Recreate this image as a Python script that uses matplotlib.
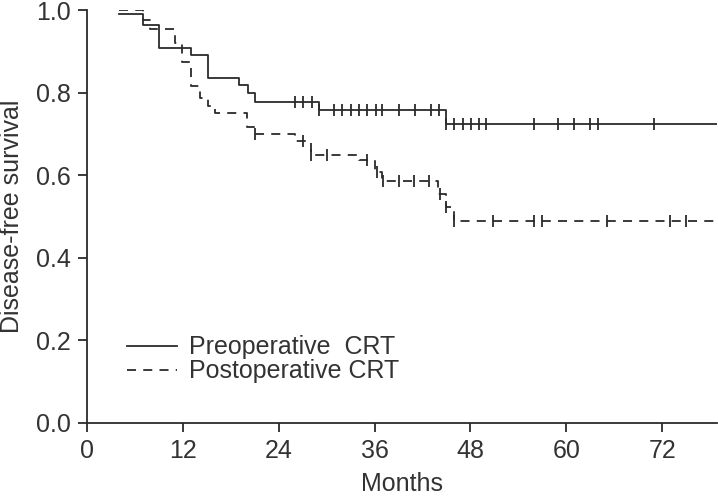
import numpy as np
import matplotlib
matplotlib.use("Agg")
import matplotlib.pyplot as plt

plt.rcParams['font.family'] = ['Liberation Sans', 'DejaVu Sans']

# Preoperative CRT (solid)
pre_times = [4, 7, 9, 13, 15.1, 19, 20.1, 21, 29, 44.9, 78.8]
pre_surv = [0.99, 0.964, 0.908, 0.891, 0.835, 0.818, 0.799, 0.777, 0.758, 0.724, 0.724]
pre_censor = [26, 27, 28.2, 29, 30.9, 31.9, 33, 34, 35, 36.2, 36.9, 39, 41.1, 43.1, 44.1,
              44.9, 45.9, 47.1, 48.1, 49.1, 50.0, 56, 58.9, 61, 63, 63.9, 71]

# Postoperative CRT (dashed)
post_times = [4, 7, 7.9, 11, 11.9, 13, 14.1, 15.1, 16, 20, 21, 26, 28, 34, 36, 36.9, 43.9, 44.9, 45.9, 78.8]
post_surv = [1.0, 0.977, 0.954, 0.92, 0.874, 0.816, 0.787, 0.768, 0.751, 0.717, 0.70, 0.684, 0.649,
             0.637, 0.608, 0.586, 0.554, 0.523, 0.489, 0.489]
post_censor = [21, 27, 28, 30, 35, 36.3, 37.1, 39, 40.9, 42.8, 44.2, 44.9, 45.9,
               50.8, 55.9, 56.9, 65.1, 73, 75]

x_ticks = [0, 12, 24, 36, 48, 60, 72]
y_ticks = [0.0, 0.2, 0.4, 0.6, 0.8, 1.0]

col = '#2b2b2b'
tcol = '#333333'
fs = 18

def step_val(times, surv, t):
    idx = np.searchsorted(times, t, side='right') - 1
    return np.asarray(surv)[idx]

fig = plt.figure(figsize=(7.18, 4.96), dpi=100)
ax = fig.add_axes([0.1212, 0.1472, 0.8768, 0.8326])

ax.step(pre_times, pre_surv, where='post', color=col, lw=1.3, label='Preoperative  CRT')
ax.step(post_times, post_surv, where='post', color=col, lw=1.3, linestyle=(0, (5, 4)),
        label='Postoperative CRT')

ax.plot(pre_censor, step_val(pre_times, pre_surv, pre_censor), ls='none', marker='|',
        ms=9, mew=1.3, color=col)
ax.plot(post_censor, step_val(post_times, post_surv, post_censor), ls='none', marker='|',
        ms=9, mew=1.3, color=col)

ax.set_xlim(0, 78.8)
ax.set_ylim(0, 1.0)
ax.set_xticks(x_ticks)
ax.set_yticks(y_ticks)
ax.set_yticklabels([f'{v:.1f}' for v in y_ticks])
for s in ['top', 'right']:
    ax.spines[s].set_visible(False)
for s in ['left', 'bottom']:
    ax.spines[s].set_color(col)
    ax.spines[s].set_linewidth(1.3)
ax.tick_params(axis='both', direction='out', length=6.5, width=1.3, color=col,
               labelsize=fs, labelcolor=tcol, pad=5)
ax.set_xlabel('Months', fontsize=fs, color=tcol, labelpad=6.5)
ax.set_ylabel('Disease-free survival', fontsize=fs, color=tcol, labelpad=9)

leg = ax.legend(loc='upper left', bbox_to_anchor=(0.063, 0.212), frameon=False,
                fontsize=fs, handlelength=2.0, handletextpad=0.5, labelspacing=0.0,
                borderpad=0, borderaxespad=0)
for t in leg.get_texts():
    t.set_color(tcol)

fig.savefig('out.png', dpi=100)
